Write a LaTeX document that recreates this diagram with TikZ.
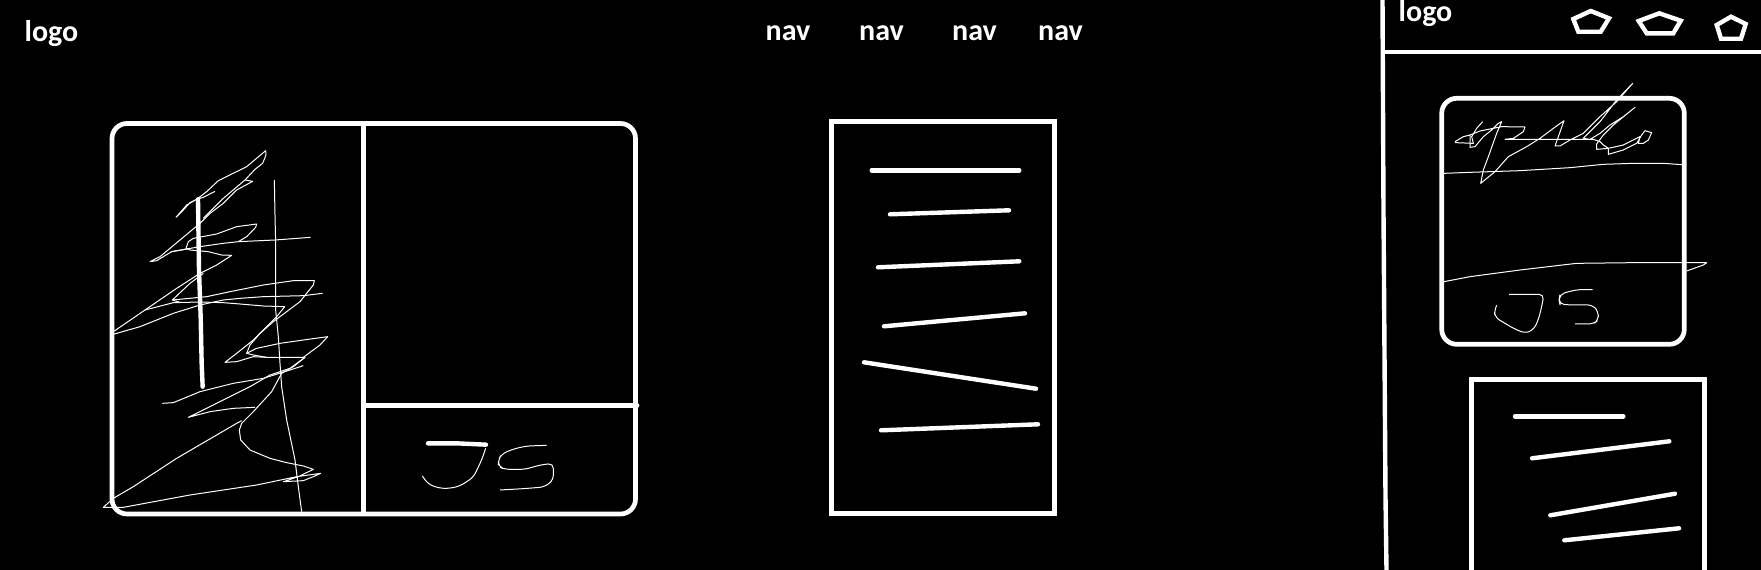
\documentclass[tikz,border=0pt]{standalone}
\usepackage{fontspec}
\setmainfont{Carlito}
\usepackage{tikz}
\tikzset{
	frame/.style={draw=white, line width=4.7pt},
	stroke/.style={draw=white, line width=4.4pt, line cap=round},
	penta/.style={draw=white, line width=4.4pt, line join=miter},
	scribble/.style={draw=white, line width=1pt, line join=round},
	letter/.style={scribble, rounded corners=5pt},
	boldtext/.style={text=white, anchor=base, inner sep=0pt, font=\fontsize{30}{34}\bfseries\selectfont},
	zoomed/.style={x=.33333pt, y=-.33333pt},
}
\begin{document}
\begin{tikzpicture}[x=1pt, y=-1pt]
	\useasboundingbox (0,0) rectangle (1761,570);
	\fill[black] (0,0) rectangle (1761,570);
	% texts
	\node[boldtext] (logoleft) at (51.5,41) {logo};
	\node[boldtext] (logoright) at (1425.5,21) {logo};
	\foreach \x/\name in {788/navone,881.5/navtwo,974.5/navthree,1060.5/navfour}
		\node[boldtext] (\name) at (\x,40) {nav};
	%
	% left panel
	\draw[frame, rounded corners=15pt] (112,123.5) rectangle (635.5,514);
	\draw[frame] (363.5,123.5) -- (363.5,514);
	\draw[frame, line cap=round] (363.5,405.5) -- (637,405.5);
	\begin{scope}[shift={(90,110)}, zoomed]
		\draw[stroke] (324,268) -- (327,480) -- (332,620) -- (335,760) -- (338,830);
		\draw[scribble] (375,244) -- (340,262) -- (320,268) -- (300,278) -- (280,300) -- (258,322) -- (290,285) -- (320,268) -- (350,245) -- (385,212) -- (470,170) -- (527,122) -- (528,135) -- (518,160) -- (495,178) -- (465,210) -- (488,214) -- (440,240) -- (400,280) -- (360,310) -- (330,340) -- (270,390) -- (210,440) -- (180,455) -- (200,452) -- (245,425) -- (290,417);
		\draw[scribble] (465,210) -- (400,265) -- (340,325);
		\draw[scribble] (662,382) -- (555,390) -- (445,395) -- (400,400) -- (330,410) -- (245,425);
		\draw[scribble] (445,395) -- (470,380) -- (497,352) -- (500,342) -- (440,350) -- (380,372) -- (310,385) -- (295,395) -- (288,415) -- (300,420) -- (355,425) -- (395,435) -- (425,436) -- (380,465) -- (330,490) -- (260,535) -- (165,600) -- (70,665);
		\draw[scribble] (70,673) -- (150,650) -- (250,610) -- (330,585) -- (400,570) -- (450,565) -- (520,560) -- (640,557) -- (698,550);
		\draw[scribble] (165,600) -- (250,578) -- (330,576) -- (400,578) -- (450,582) -- (520,588) -- (584,590) -- (560,620) -- (530,650) -- (490,690) -- (440,730) -- (405,757) -- (440,755) -- (490,740) -- (530,742) -- (645,742) -- (610,770) -- (575,790) -- (545,845) -- (490,905) -- (455,940) -- (448,960) -- (452,990) -- (480,1020) -- (540,1045) -- (590,1058) -- (640,1068) -- (670,1078) -- (625,1100) -- (580,1115) -- (640,1112) -- (670,1100) -- (692,1090) -- (620,1100) -- (500,1125) -- (300,1155) -- (100,1192) -- (40,1192) -- (70,1165) -- (130,1130) -- (260,1045) -- (440,940) -- (455,932);
		\draw[scribble] (340,490) -- (300,520) -- (247,570) -- (270,577);
		\draw[scribble] (247,570) -- (350,560) -- (420,545) -- (520,525) -- (610,512) -- (673,512) -- (670,525) -- (650,550) -- (630,575) -- (590,605) -- (550,635) -- (510,670) -- (480,705) -- (470,730) -- (490,735) -- (530,742);
		\draw[scribble] (470,730) -- (500,715) -- (570,700) -- (640,690) -- (713,680) -- (690,705) -- (640,742);
		\draw[scribble] (640,767) -- (600,780) -- (520,805) -- (430,820) -- (330,845) -- (250,878) -- (217,880);
		\draw[scribble] (645,742) -- (600,775) -- (540,795) -- (480,830) -- (400,870) -- (340,900) -- (295,922) -- (360,905) -- (430,895) -- (495,892);
		\draw[scribble] (553,210) -- (555,315) -- (557,400) -- (557,600) -- (565,680) -- (570,760) -- (575,830) -- (590,930) -- (615,1050) -- (625,1130) -- (635,1205);
	\end{scope}
	\begin{scope}[shift={(360,390)}, zoomed]
		\draw[stroke] (204,160) -- (290,160) -- (378,164);
		\draw[letter] (377,175) -- (365,210) -- (340,262) -- (300,288) -- (270,295) -- (240,295) -- (205,283) -- (187,258);
		\draw[letter] (560,166) -- (500,168) -- (460,177) -- (425,192) -- (415,210) -- (415,230) -- (435,238) -- (495,238) -- (540,225) -- (580,220) -- (580,270) -- (553,291) -- (490,296) -- (420,300);
	\end{scope}
	%
	% middle panel
	\draw[frame] (831.5,121.5) rectangle (1054.5,513.5);
	\draw[stroke] (871.7,170.3) -- (1019.3,170.3);
	\draw[stroke] (890,214.3) -- (1009,210.3);
	\draw[stroke] (878,267.3) -- (1019.3,261.3);
	\draw[stroke] (884,326.3) -- (1025,313.3);
	\draw[stroke] (864,362.3) -- (1036,388.7);
	\draw[stroke] (881,430.3) -- (1038,424.3);
	%
	% right panel
	\draw[frame, line width=4.4pt] (1382.5,0) -- (1383.5,213) -- (1385.5,497) -- (1386.5,570);
	\draw[frame, line width=4.4pt] (1383,52) -- (1761,52);
	\draw[penta] (1590.7,11) -- (1609,18.3) -- (1600.7,31.7) -- (1578.3,31.7) -- (1573.3,19) -- cycle;
	\draw[penta] (1659.3,13.3) -- (1680.7,20.7) -- (1673.3,33.3) -- (1646.7,33.3) -- (1638.7,21) -- cycle;
	\draw[penta] (1731,16.7) -- (1745.7,24) -- (1741,38.7) -- (1721,38.7) -- (1716.7,25) -- cycle;
	\draw[frame, rounded corners=15pt] (1441.7,98.3) rectangle (1684.3,344.3);
	\begin{scope}[shift={(1370,0)}, zoomed]
		\draw[scribble] (222,520) -- (300,517) -- (450,512) -- (600,503) -- (700,493) -- (790,490) -- (880,490) -- (936,494);
		\draw[scribble] (222,845) -- (300,830) -- (450,810) -- (620,790) -- (790,788) -- (1010,788) -- (1000,795) -- (950,813);
		\draw[letter] (417,883) -- (522,883) -- (515,920) -- (505,960) -- (490,990) -- (465,1000) -- (430,985) -- (375,952) -- (373,930) -- (379,918);
		\draw[letter] (668,869) -- (620,869) -- (570,882) -- (567,900) -- (570,914) -- (668,915) -- (685,935) -- (685,960) -- (670,972) -- (615,972);
		\draw[scribble] (255,425) -- (280,410) -- (300,405) -- (330,393) -- (395,380) -- (465,381) -- (460,395) -- (430,415) -- (405,418) -- (670,418) -- (690,425) -- (700,435) -- (715,445) -- (680,448) -- (680,432) -- (700,405) -- (730,375) -- (795,322) -- (760,350) -- (720,375) -- (690,400) -- (660,418) -- (640,415) -- (690,365) -- (740,300) -- (788,250) -- (740,305) -- (690,350) -- (640,400) -- (600,420) -- (570,438) -- (555,438) -- (565,410) -- (582,362) -- (550,385) -- (510,415) -- (470,440) -- (415,470) -- (375,515) -- (332,550) -- (340,510) -- (355,470) -- (380,400) -- (395,365) -- (385,370) -- (365,390) -- (340,410) -- (315,440) -- (300,442) -- (300,405);
		\draw[scribble] (338,365) -- (320,385) -- (305,410) -- (310,430) -- (258,428) -- (255,425);
		\draw[scribble] (715,445) -- (715,463) -- (760,450) -- (800,430) -- (815,405) -- (825,392) -- (845,398) -- (835,420) -- (820,430) -- (805,430) -- (810,410) -- (760,435) -- (715,445);
	\end{scope}
	\draw[frame] (1471.7,570) -- (1471.7,379.3) -- (1704.7,379.3) -- (1704.7,570);
	\draw[stroke] (1515,416.3) -- (1623.3,416.3);
	\draw[stroke] (1532,458.3) -- (1669.3,441.3);
	\draw[stroke] (1550.3,515.3) -- (1675,493.7);
	\draw[stroke] (1564.3,540.3) -- (1679,528.3);
\end{tikzpicture}
\end{document}
